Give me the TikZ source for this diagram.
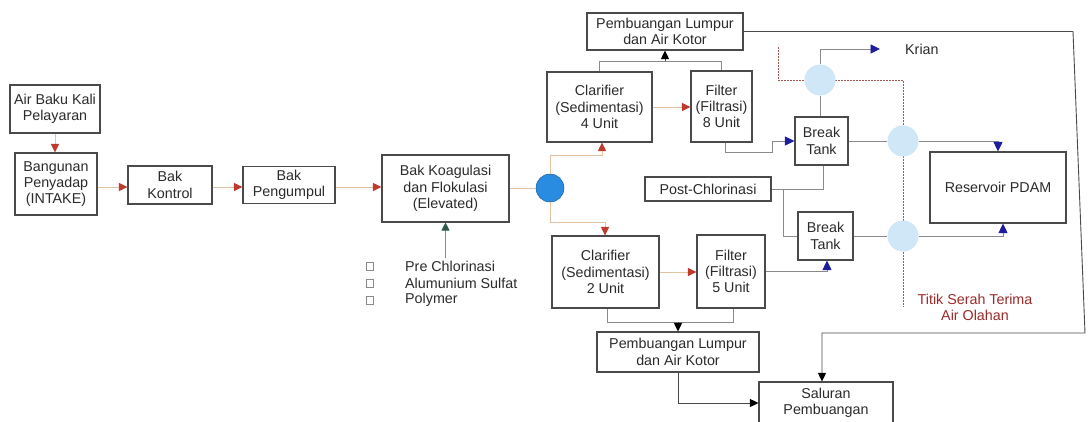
\documentclass[tikz,border=0pt]{standalone}
\usepackage{fontspec}
\setmainfont{Liberation Sans}
\usetikzlibrary{arrows.meta,calc}
\definecolor{boxc}{HTML}{4A4A4A}
\definecolor{txt}{HTML}{2B2B2B}
\definecolor{linec}{HTML}{8A8A8A}
\definecolor{tanc}{HTML}{E3C2A4}
\definecolor{redc}{HTML}{BE3A2C}
\definecolor{bluec}{HTML}{1E1E9C}
\definecolor{greenc}{HTML}{2E5A4C}
\definecolor{dotc}{HTML}{A85555}
\definecolor{titc}{HTML}{9B2A2A}
\definecolor{bigblue}{HTML}{2A8CE0}
\definecolor{ltblue}{HTML}{CFE7F6}
\begin{document}
\begin{tikzpicture}[x=1pt,y=-1pt,
  font=\fontsize{14.3}{16.3}\selectfont,
  box/.style={draw=boxc, line width=1.1pt, align=center, inner sep=0pt, text=txt},
  conn/.style={draw=linec, line width=0.9pt},
  redarr/.style={draw=tanc, line width=1pt, -{Triangle[length=8.5pt,width=8pt,color=redc]}},
  tanline/.style={draw=tanc, line width=1pt},
  bluearr/.style={conn, -{Triangle[length=9.5pt,width=9pt,color=bluec]}},
  blackarr/.style={conn, draw=boxc, -{Triangle[length=8.5pt,width=8pt,color=black]}},
  greenarr/.style={conn, -{Triangle[length=8pt,width=8pt,color=greenc]}},
  dotline/.style={draw=dotc, line width=1pt, dash pattern=on 1.5pt off 1.5pt},
  ltcirc/.style={circle, fill=ltblue, draw=none, minimum size=31pt, inner sep=0pt},
  sq/.style={draw=linec, line width=0.7pt, minimum width=7pt, minimum height=8pt, inner sep=0pt},
  lbl/.style={anchor=west, text=txt, inner sep=0pt}
]
\useasboundingbox[fill=white] (0,0) rectangle (1088,421);

% dotted boundary line (drawn first, under circles)
\coordinate (dt0) at (778,47);
\coordinate (dt1) at (778,80);
\coordinate (dt2) at (903,80);
\coordinate (dt3) at (903,307);
\draw[dotline] (dt0) -- (dt1) -- (dt2) -- (dt3);

% nodes
\node[box, minimum width=90pt, minimum height=48pt] (air) at (55,109) {Air Baku Kali\\Pelayaran};
\node[box, minimum width=82pt, minimum height=62pt] (intake) at (56,184) {Bangunan\\Penyadap\\(INTAKE)};
\node[box, minimum width=84pt, minimum height=38pt] (kontrol) at (170,185) {Bak\\Kontrol};
\node[box, minimum width=92pt, minimum height=37pt] (pengumpul) at (289,185) {Bak\\Pengumpul};
\node[box, minimum width=127pt, minimum height=67pt] (koag) at (445.5,188.5) {Bak Koagulasi\\dan Flokulasi\\(Elevated)};
\node[circle, fill=bigblue, draw=bigblue!70!black, line width=0.5pt, minimum size=28pt, inner sep=0pt] (bc) at (550,188) {};

\node[box, minimum width=105pt, minimum height=70pt] (clar4) at (599.5,107) {Clarifier\\(Sedimentasi)\\4 Unit};
\node[box, minimum width=61pt, minimum height=71pt] (filt8) at (721.5,106.5) {Filter\\(Filtrasi)\\8 Unit};
\node[box, minimum width=156pt, minimum height=37pt] (pemb1) at (665,31.5) {Pembuangan Lumpur\\dan Air Kotor};

\node[box, minimum width=107pt, minimum height=72pt] (clar2) at (605.5,272) {Clarifier\\(Sedimentasi)\\2 Unit};
\node[box, minimum width=68pt, minimum height=73pt] (filt5) at (731,271.5) {Filter\\(Filtrasi)\\5 Unit};
\node[box, minimum width=162pt, minimum height=40pt] (pemb2) at (678,352) {Pembuangan Lumpur\\dan Air Kotor};
\node[box, minimum width=134pt, minimum height=42pt] (saluran) at (826,403) {Saluran\\Pembuangan};

\node[box, minimum width=126pt, minimum height=24pt] (postchl) at (708,189) {Post-Chlorinasi};
\node[box, minimum width=53pt, minimum height=48pt] (bt1) at (821.5,141) {Break\\Tank};
\node[box, minimum width=55pt, minimum height=48pt] (bt2) at (825.5,236) {Break\\Tank};
\node[box, minimum width=136pt, minimum height=71pt] (res) at (998,187.5) {Reservoir PDAM};

\node[ltcirc] (cA) at (820,80) {};
\node[ltcirc] (cB) at (903,141) {};
\node[ltcirc] (cC) at (903,236) {};

\node[lbl] (krian) at (905,49) {Krian};
\node[align=center, text=titc, inner sep=0pt] (titik) at (975,307.5) {Titik Serah Terima\\Air Olahan};

% chemical list
\node[sq] (s1) at (370,266) {};
\node[sq] (s2) at (370,283) {};
\node[sq] (s3) at (370,300) {};
\node[lbl] (l1) at (405,266) {Pre Chlorinasi};
\node[lbl] (l2) at (405,283) {Alumunium Sulfat};
\node[lbl] (l3) at (405,300) {Polymer};
\coordinate (chem) at (445.5,258);
\draw[greenarr] (chem) -- (koag.south);

% main line (red arrows)
\draw[redarr] (air.south) -- (air.south |- intake.north);
\draw[redarr] (intake.east |- 0,187) -- (kontrol.west |- 0,187);
\draw[redarr] (kontrol.east |- 0,187) -- (pengumpul.west |- 0,187);
\draw[redarr] (pengumpul.east |- 0,187) -- (koag.west |- 0,187);
\draw[tanline] (koag.east |- bc) -- (bc.west);

\coordinate (u1) at (602,155);
\coordinate (d1) at (605,222);
\draw[redarr] (bc.north) |- (u1) -- (u1 |- clar4.south);
\draw[redarr] (bc.south) |- (d1) -- (d1 |- clar2.north);
\draw[redarr] (clar4.east) -- (filt8.west |- clar4.east);
\draw[redarr] (clar2.east) -- (filt5.west |- clar2.east);

% sludge lines
\coordinate (j1) at (665,61);
\draw[conn] (clar4.north) -- (clar4.north |- j1) -| (filt8.north);
\draw[blackarr] (j1) -- (pemb1.south);
\coordinate (j2) at (678,322);
\draw[conn] ([xshift=1.5pt]clar2.south) -- ([xshift=1.5pt]clar2.south |- j2) -| ([xshift=2pt]filt5.south);
\draw[blackarr] (j2) -- (pemb2.north);
\draw[blackarr] (pemb2.south) |- (saluran.west);
\draw[blackarr] (pemb1.east) -- (1073,31.5) -- (1085,333) -| ([xshift=-4pt]saluran.north);

% filtered water to break tanks
\draw[bluearr] ([xshift=3.5pt]filt8.south) -- ++(0,10) -| (772,141) -- (bt1.west);
\draw[bluearr] (filt5.east) -| ([xshift=1.5pt]bt2.south);

% post-chlorination
\coordinate (pc) at (783,189);
\draw[conn] (postchl.east) -| ([xshift=1.5pt]bt1.south);
\draw[conn] (pc) |- (bt2.west);

% distribution
\draw[conn] ([xshift=-1.5pt]bt1.north) -- (cA.south);
\draw[bluearr] (cA.north) |- (880,49);
\draw[conn] (bt1.east) -- (cB.west);
\draw[bluearr] (cB.east) -| (res.north);
\draw[conn] (bt2.east) -- (cC.west);
\draw[bluearr] (cC.east) -| ([xshift=5pt]res.south);
\end{tikzpicture}
\end{document}
